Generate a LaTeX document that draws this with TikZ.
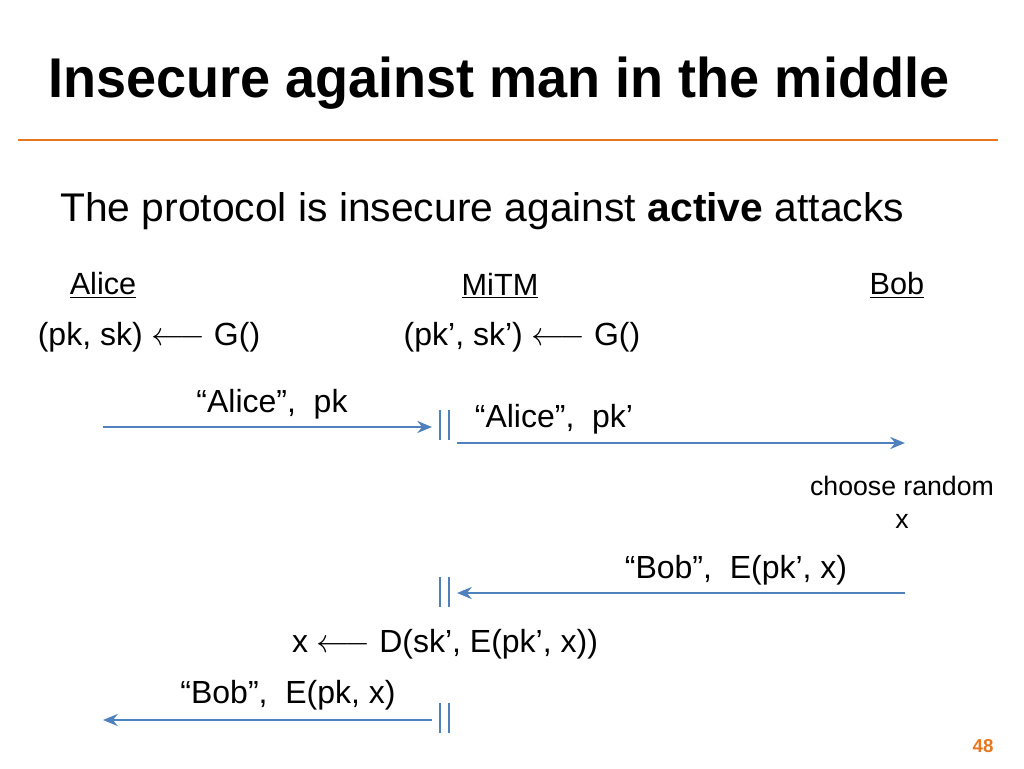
\documentclass[tikz,border=0pt]{standalone}
\usepackage{fontspec}
\setmainfont{Liberation Sans}
\usetikzlibrary{arrows.meta}
\definecolor{org}{RGB}{232,118,30}
\definecolor{arr}{RGB}{79,129,189}
\tikzset{msg/.style={draw=arr,line width=1.8pt,-{Stealth[length=11pt,width=9pt]}},
bar/.style={draw=arr,line width=1.2pt},
lbl/.style={inner sep=0pt,font=\fontsize{24}{28}\selectfont},
hd/.style={inner sep=0pt,font=\fontsize{23}{27}\selectfont}}
\begin{document}
\begin{tikzpicture}[x=0.75pt,y=-0.75pt]
\useasboundingbox (0,0) rectangle (1024,768);
\node[anchor=west,inner sep=0pt,font=\bfseries\fontsize{42}{48}\selectfont,xscale=0.965] (title) at (48,83) {Insecure against man in the middle};
\draw[org,line width=2pt] (18,140) -- (998,140);
\node[anchor=west,inner sep=0pt,font=\fontsize{30}{35}\selectfont,xscale=1.02] (intro) at (60,211) {The protocol is insecure against \textbf{active} attacks};
\node[hd] (alice) at (103,285) {\underline{Alice}};
\node[hd] (mitm) at (500,286) {\underline{MiTM}};
\node[hd] (bob) at (897,285) {\underline{Bob}};
\node[lbl] (ka) at (149,337) {(pk, sk) $\longleftarrow$ G()};
\node[lbl] (km) at (522,337) {(pk’, sk’) $\longleftarrow$ G()};
\node[lbl] (m1) at (272,404) {“Alice”,\ \ pk};
\node[lbl] (m2) at (554,419) {“Alice”,\ \ pk’};
\node[inner sep=0pt,font=\fontsize{20}{25}\selectfont,align=center] (ch) at (902,502) {choose random\\x};
\node[lbl] (m3) at (736,570) {“Bob”,\ \ E(pk’, x)};
\node[lbl] (dec) at (445,644) {x $\longleftarrow$ D(sk’, E(pk’, x))};
\node[lbl] (m4) at (288,695) {“Bob”,\ \ E(pk, x)};
\node[font=\bfseries\fontsize{14}{16}\selectfont,text=org,inner sep=0pt] (pg) at (983,746) {48};
\coordinate (a1) at (103,427); \coordinate (b1) at (432,427);
\coordinate (a2) at (457,443); \coordinate (b2) at (905,443);
\coordinate (a3) at (905,593); \coordinate (b3) at (457,593);
\coordinate (a4) at (432,720); \coordinate (b4) at (103,720);
\draw[msg] (a1) -- (b1);
\draw[msg] (a2) -- (b2);
\draw[msg] (a3) -- (b3);
\draw[msg] (a4) -- (b4);
\foreach \y in {425,592,718}{
\draw[bar] (440,\y-15) -- (440,\y+15);
\draw[bar] (449,\y-15) -- (449,\y+15);}
\end{tikzpicture}
\end{document}
